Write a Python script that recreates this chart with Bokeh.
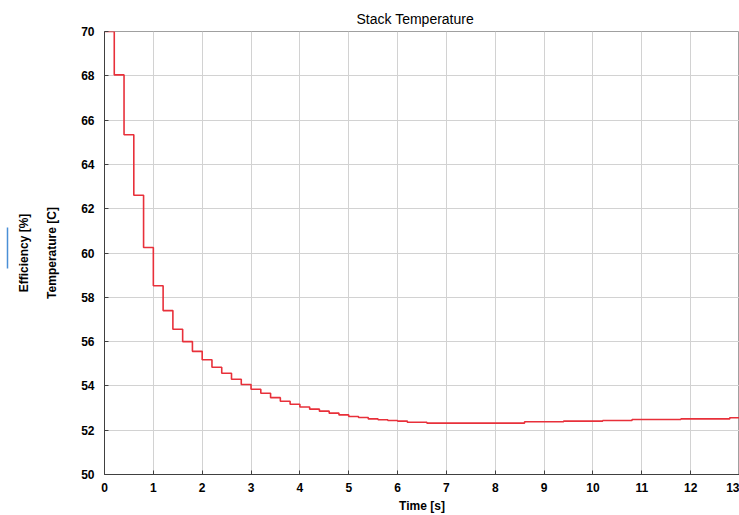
from bokeh.plotting import figure
from bokeh.models import LinearAxis, Range1d, FixedTicker
from bokeh.embed import file_html
from bokeh.resources import INLINE

# Data (step changes of stack temperature)
time_s = [0.0, 0.2, 0.4, 0.6, 0.8, 1.0, 1.2, 1.4, 1.6, 1.8, 2.0, 2.2, 2.4, 2.6,
          2.8, 3.0, 3.2, 3.4, 3.6, 3.8, 4.0, 4.2, 4.4, 4.6, 4.8, 5.0, 5.2, 5.4,
          5.6, 5.8, 6.0, 6.2, 6.6, 8.6, 9.4, 10.2, 10.8, 11.8, 12.8, 13.0]
temp_c = [70.0, 68.04, 65.34, 62.61, 60.25, 58.52, 57.40, 56.56, 56.00, 55.56,
          55.18, 54.84, 54.57, 54.30, 54.06, 53.85, 53.67, 53.47, 53.31, 53.17,
          53.05, 52.95, 52.86, 52.77, 52.69, 52.62, 52.57, 52.51, 52.47, 52.44,
          52.41, 52.36, 52.32, 52.38, 52.41, 52.44, 52.48, 52.51, 52.56, 52.56]
x_ticks = list(range(0, 14))
y_ticks = list(range(50, 71, 2))

FONT = "Liberation Sans"

p = figure(width=739, height=515, output_backend="svg", toolbar_location=None,
           x_range=Range1d(0, 13), y_range=Range1d(50, 70),
           title="Stack Temperature",
           min_border_left=104, min_border_right=0, min_border_top=31,
           min_border_bottom=41, y_axis_location=None)

p.title.align = "left"
p.title.offset = 252
p.title.text_font = FONT
p.title.text_font_size = "14px"
p.title.text_font_style = "normal"
p.title.text_color = "black"

p.background_fill_color = "white"
p.border_fill_color = "white"
p.outline_line_color = "#a0a0a0"
p.outline_line_width = 1


def style_axis(ax):
    ax.axis_label_text_font = FONT
    ax.axis_label_text_font_size = "12px"
    ax.axis_label_text_font_style = "bold"
    ax.axis_label_text_color = "black"
    ax.major_label_text_font = FONT
    ax.major_label_text_font_size = "12px"
    ax.major_label_text_font_style = "bold"
    ax.major_label_text_color = "black"
    ax.minor_tick_line_color = None


def bare_axis(ax):
    ax.axis_line_color = None
    ax.major_tick_line_color = None
    ax.major_tick_in = 0
    ax.major_tick_out = 0
    ax.major_label_text_font_size = "0px"


# temperature axis (ticks, tick labels, title)
yax = LinearAxis(axis_label="Temperature [C]", ticker=FixedTicker(ticks=y_ticks))
style_axis(yax)
yax.major_tick_in = 4
yax.major_tick_out = 0
yax.major_label_standoff = 10
yax.axis_label_standoff = 19
yax.axis_line_color = "#404040"
yax.major_tick_line_color = "#404040"

# efficiency axis (title only)
eff = LinearAxis(axis_label="Efficiency [%]", ticker=FixedTicker(ticks=[]))
style_axis(eff)
bare_axis(eff)
eff.axis_label_standoff = 12

# spacer between the efficiency title and its series line
spacer = LinearAxis(axis_label=" ", ticker=FixedTicker(ticks=[]))
bare_axis(spacer)
spacer.axis_label_text_font_size = "1px"
spacer.axis_label_standoff = 2

# short blue line standing for the efficiency series
eff_line = LinearAxis(ticker=FixedTicker(ticks=[]), bounds=(59.3, 61.15))
bare_axis(eff_line)
eff_line.axis_line_color = "#4a8fd6"
eff_line.axis_line_width = 1.5

p.add_layout(yax, "left")
p.add_layout(eff, "left")
p.add_layout(spacer, "left")
p.add_layout(eff_line, "left")

xax = p.xaxis[0]
xax.ticker = FixedTicker(ticks=x_ticks)
xax.axis_label = "Time [s]"
style_axis(xax)
xax.major_tick_in = 4
xax.major_tick_out = 0
xax.major_label_standoff = 8
xax.axis_label_standoff = 4
xax.axis_line_color = "#404040"
xax.major_tick_line_color = "#404040"

p.xgrid.ticker = FixedTicker(ticks=x_ticks)
p.ygrid.ticker = FixedTicker(ticks=y_ticks)
p.grid.grid_line_color = "#d2d2d2"
p.grid.grid_line_width = 1

p.step(time_s, temp_c, mode="after", line_color="#e8303a", line_width=1.6)

open("out.html", "w").write(file_html(p, INLINE))
